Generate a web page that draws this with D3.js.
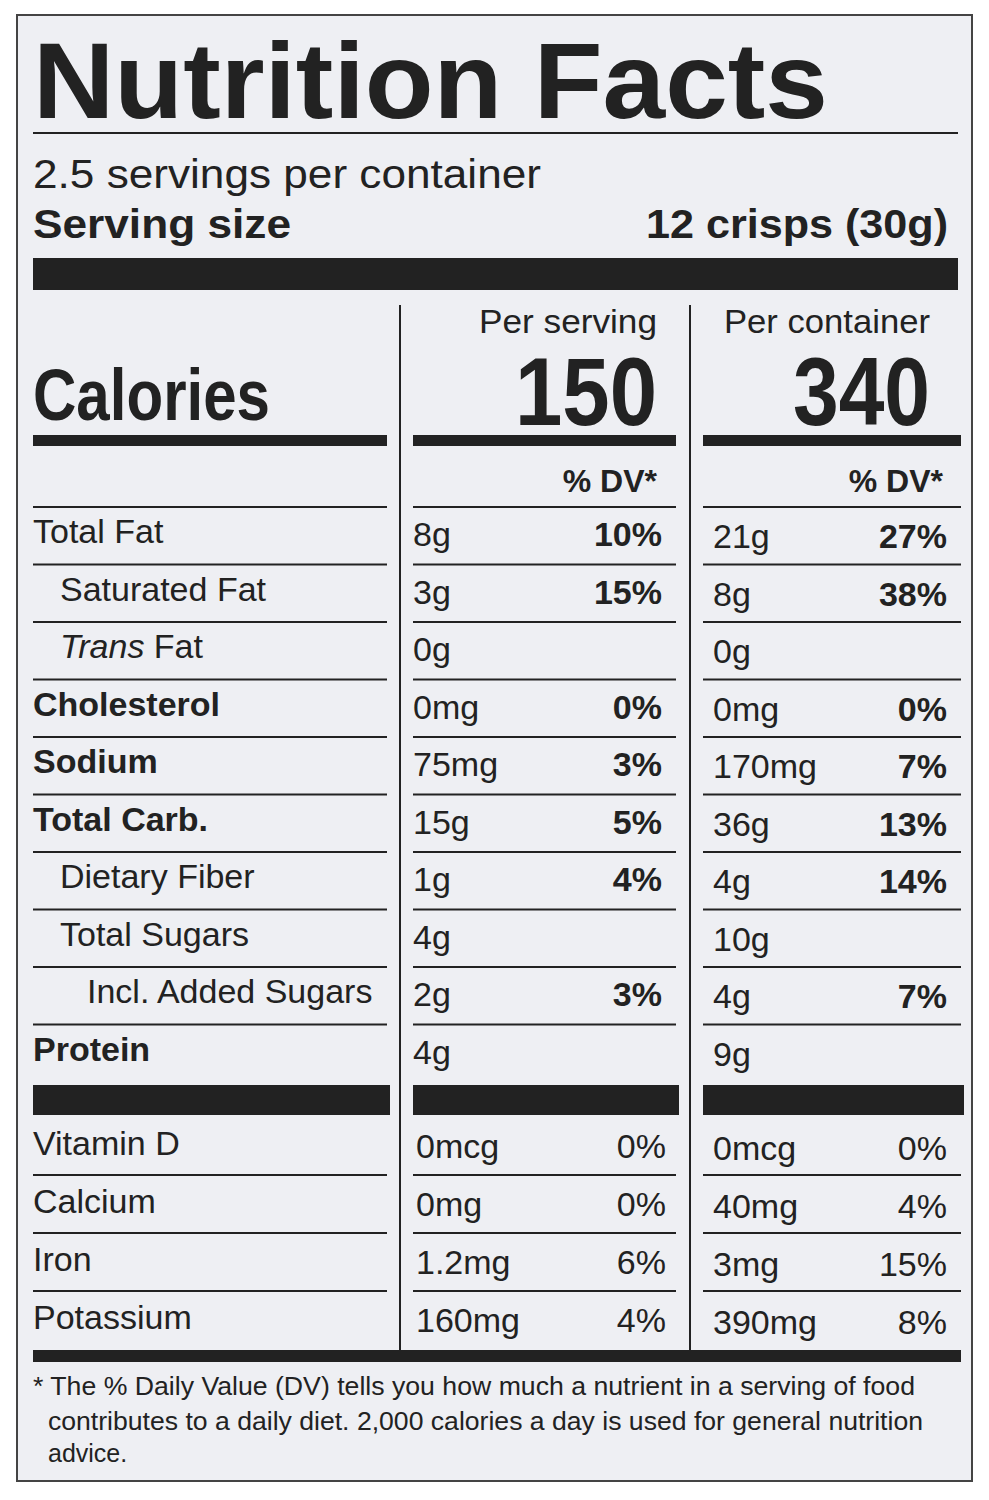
<!DOCTYPE html>
<html><head><meta charset="utf-8">
<script src="https://cdn.jsdelivr.net/npm/d3@7"></script>
<style>body{margin:0;background:#fff}</style></head>
<body><script>
const nutrients=["Total Fat","Saturated Fat","Trans Fat","Cholesterol","Sodium","Total Carb.","Dietary Fiber","Total Sugars","Incl. Added Sugars","Protein"];
const indent=[0,1,1,0,0,0,1,1,2,0];
const boldName=[0,0,0,1,1,1,0,0,0,1];
const servAmt=["8g","3g","0g","0mg","75mg","15g","1g","4g","2g","4g"];
const servDV=["10%","15%","","0%","3%","5%","4%","","3%",""];
const contAmt=["21g","8g","0g","0mg","170mg","36g","4g","10g","4g","9g"];
const contDV=["27%","38%","","0%","7%","13%","14%","","7%",""];
const vitamins=["Vitamin D","Calcium","Iron","Potassium"];
const vServAmt=["0mcg","0mg","1.2mg","160mg"];
const vServDV=["0%","0%","6%","4%"];
const vContAmt=["0mcg","40mg","3mg","390mg"];
const vContDV=["0%","4%","15%","8%"];
const cal=[150,340];

const W=989,H=1500,ink="#222";
const svg=d3.select("body").append("svg").attr("width",W).attr("height",H);
svg.append("rect").attr("width",W).attr("height",H).attr("fill","#fff");
svg.append("rect").attr("x",17).attr("y",15).attr("width",955).attr("height",1466).attr("fill","#eeeff3").attr("stroke","#444").attr("stroke-width",2);
const F="'Liberation Sans',Arial,sans-serif";
function t(x,y,s,size,o={}){const e=svg.append("text").attr("x",x).attr("y",y).text(s).attr("font-family",o.f||F).attr("font-size",size).attr("font-weight",o.b?"bold":"normal").attr("text-anchor",o.a||"start").attr("fill",ink);if(o.len)e.attr("textLength",o.len).attr("lengthAdjust","spacingAndGlyphs");return e;}
function r(x,y,w,h){svg.append("rect").attr("x",x).attr("y",y).attr("width",w).attr("height",h).attr("fill",ink);}
t(33,118,"Nutrition Facts",108,{b:1,len:795});
r(33,132,925,2);
t(33,188,"2.5 servings per container",40,{len:508});
t(33,238,"Serving size",40,{b:1,len:258});
t(948,238,"12 crisps (30g)",40,{b:1,a:"end",len:302});
r(33,258,925,32);
r(399,305,2,1045);r(689,305,2,1045);
t(657,333,"Per serving",34,{a:"end",len:178});t(930,333,"Per container",34,{a:"end",len:206});
t(515,425,cal[0],96,{b:1,len:142});
t(793,425,cal[1],96,{b:1,len:137});
t(33,420,"Calories",72,{b:1,len:237});
const cols=[{l:413,r:676,vx:413,dx:662},{l:703,r:961,vx:713,dx:947}];
const segs=[{l:33,r:387},...cols];
segs.forEach(s=>r(s.l,435,s.r-s.l,11));
t(657,492,"% DV*",32,{b:1,a:"end"});t(943,492,"% DV*",32,{b:1,a:"end"});
const y=d3.scaleBand().domain(d3.range(nutrients.length)).range([507,1082]);
segs.forEach(s=>r(s.l,506,s.r-s.l,2));
nutrients.forEach((n,i)=>{
  const b=y(i)+y.bandwidth()*0.63;
  const tx=t(33+indent[i]*27,b,"",34,{b:boldName[i]});
  if(n==="Trans Fat"){tx.append("tspan").attr("font-style","italic").text("Trans");tx.append("tspan").text(" Fat");} else tx.text(n);
  t(cols[0].vx,b+3,servAmt[i],34);t(cols[0].dx,b+3,servDV[i],34,{b:1,a:"end"});
  t(cols[1].vx,b+5,contAmt[i],34);t(cols[1].dx,b+5,contDV[i],34,{b:1,a:"end"});
  if(i<nutrients.length-1) segs.forEach(s=>r(s.l,y(i)+y.bandwidth()-1,s.r-s.l,2));
});
segs.forEach(s=>r(s.l,1085,(s.r-s.l)+3,30));
const yv=d3.scaleBand().domain(d3.range(vitamins.length)).range([1118,1350]);
vitamins.forEach((n,i)=>{
  const b=yv(i)+yv.bandwidth()*0.64;
  t(33,b,n,34);
  t(cols[0].vx+3,b+3,vServAmt[i],34);t(cols[0].dx+4,b+3,vServDV[i],34,{a:"end"});
  t(cols[1].vx,b+5,vContAmt[i],34);t(cols[1].dx,b+5,vContDV[i],34,{a:"end"});
  if(i<vitamins.length-1) segs.forEach(s=>r(s.l,yv(i)+yv.bandwidth()-2,s.r-s.l,2));
});
r(33,1350,928,12);
t(33,1395,"* The % Daily Value (DV) tells you how much a nutrient in a serving of food",25,{len:882});
t(48,1430,"contributes to a daily diet. 2,000 calories a day is used for general nutrition",25,{len:875});
t(48,1462,"advice.",25);
</script></body></html>
